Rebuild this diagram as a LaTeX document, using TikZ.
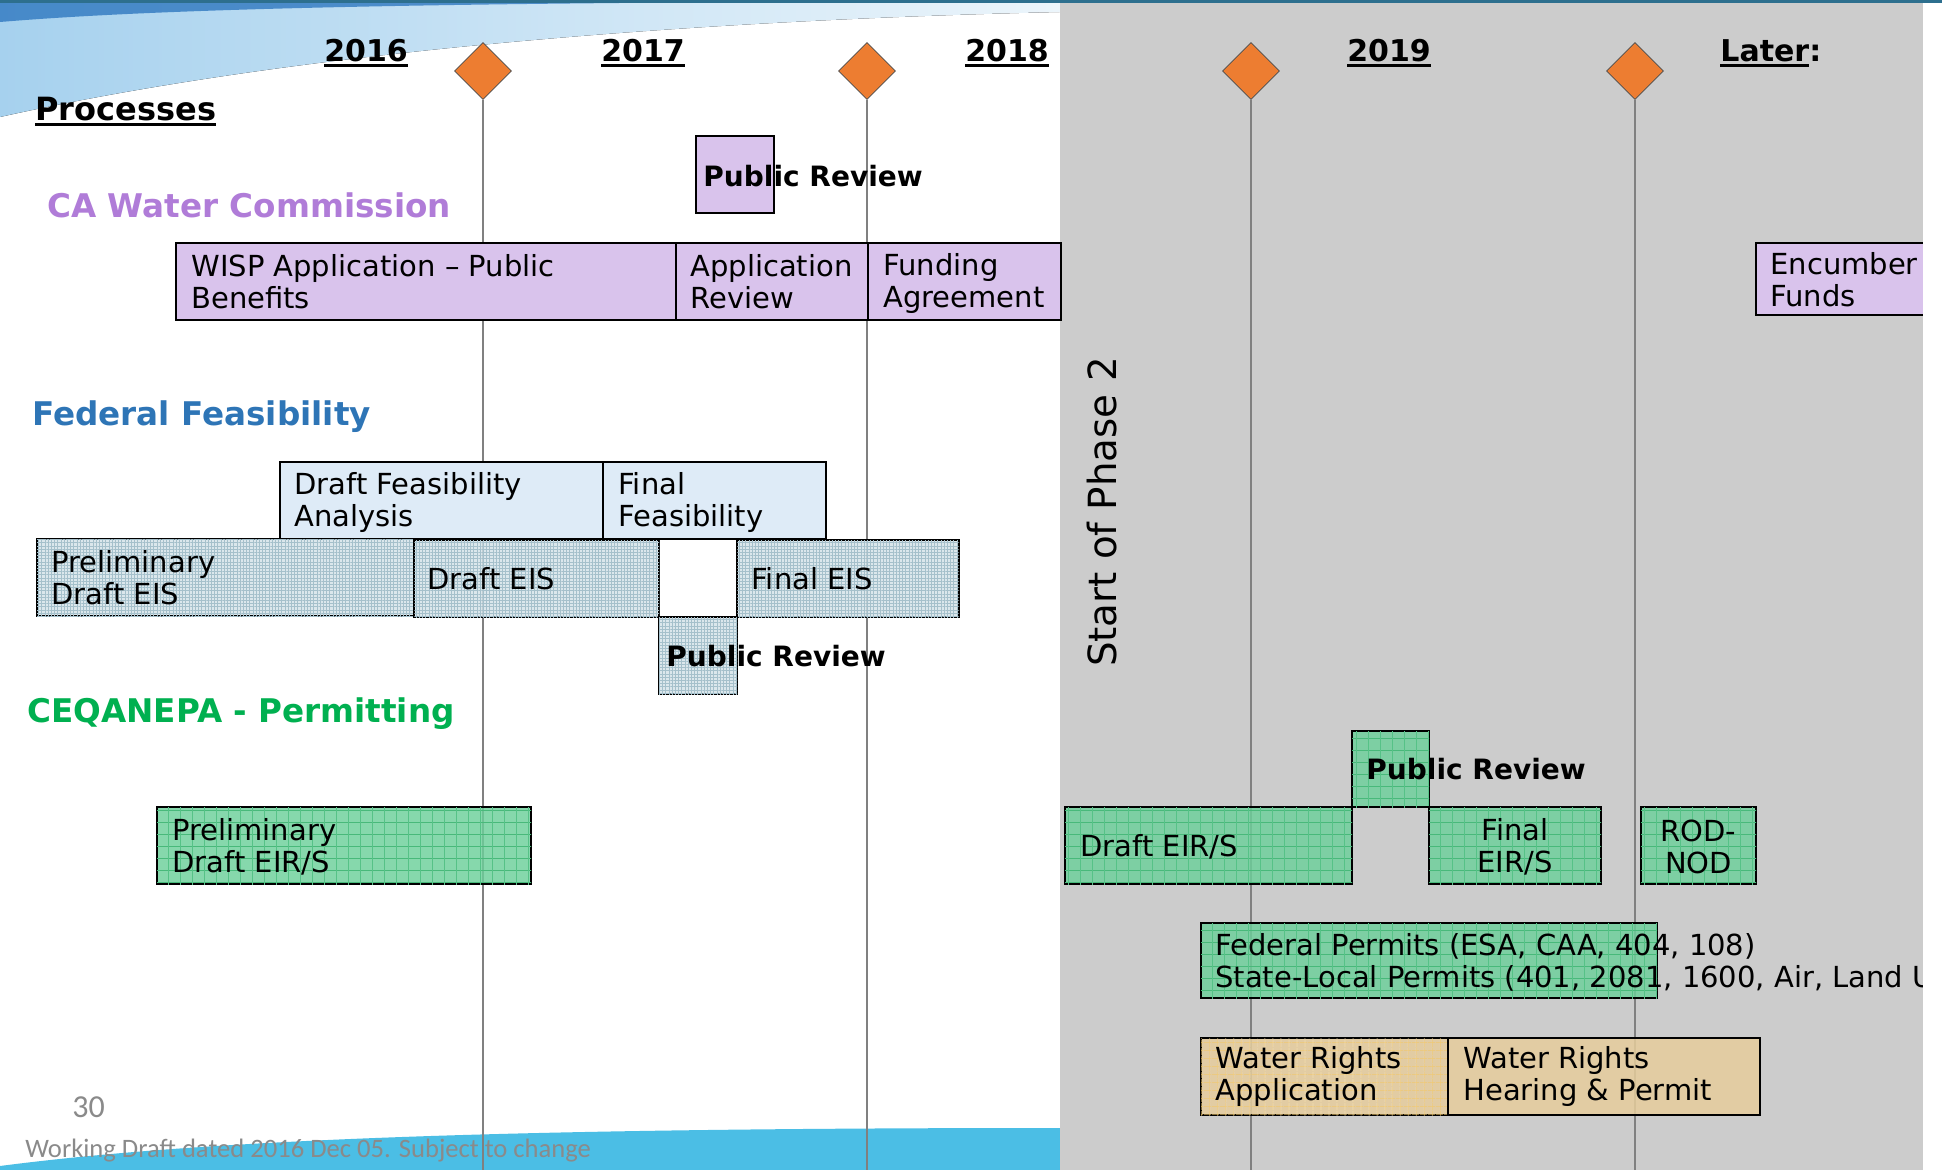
\documentclass[tikz,border=0pt]{standalone}
\usepackage{fontspec}
\setmainfont{DejaVu Sans}
\newfontfamily\footfont{Carlito}
\usetikzlibrary{patterns.meta, shapes.geometric}

\definecolor{topline}{HTML}{2D6F8E}
\definecolor{swooshdark}{HTML}{2F78C0}
\definecolor{swooshL}{HTML}{A6D1EE}
\definecolor{swooshR}{HTML}{ECF5FB}
\definecolor{footblue}{HTML}{4BBEE5}
\definecolor{panelgray}{HTML}{CCCCCC}
\definecolor{tickgray}{HTML}{808080}
\definecolor{milestone}{HTML}{ED7D31}
\definecolor{lavfill}{HTML}{D9C3EC}
\definecolor{feasfill}{HTML}{DEEBF7}
\definecolor{eisfill}{HTML}{D2E2E8}
\definecolor{eisline}{HTML}{A5C0CB}
\definecolor{greenfill}{HTML}{6CD09A}
\definecolor{greenline}{HTML}{48B97A}
\definecolor{tanfill}{HTML}{E6CD9C}
\definecolor{tanline}{HTML}{F3C766}
\definecolor{cwcpurple}{HTML}{B07CD8}
\definecolor{fedblue}{HTML}{2E75B6}
\definecolor{ceqagreen}{HTML}{00B050}
\definecolor{footgray}{HTML}{8A8A8A}

\newcommand{\barfont}{\fontsize{14.5}{16}\selectfont}
\newcommand{\headfont}{\bfseries\fontsize{16.3}{19}\selectfont}
% thick underline, as on the slide
\newcommand{\thickul}[1]{\leavevmode\setbox0=\hbox{#1}\rlap{\rule[-2.6pt]{\wd0}{1.7pt}}\box0}

\begin{document}
\begin{tikzpicture}[x=0.5pt, y=-0.5pt,
    bar/.style={draw=black, line width=1.2pt},
    lavbar/.style={bar, fill=lavfill},
    feasbar/.style={bar, fill=feasfill},
    eisbar/.style={bar, fill=eisfill, fill opacity=.8,
        postaction={pattern={Lines[angle=0, distance=1.6pt, line width=.3pt]}, pattern color=eisline},
        postaction={pattern={Lines[angle=90, distance=1.6pt, line width=.3pt]}, pattern color=eisline}},
    greenbar/.style={bar, fill=greenfill, fill opacity=.82,
        postaction={pattern={Lines[angle=0, distance=6pt, line width=.4pt]}, pattern color=greenline},
        postaction={pattern={Lines[angle=90, distance=6pt, line width=.25pt]}, pattern color=greenline!60!greenfill}},
    tanbar/.style={bar, fill=tanfill, fill opacity=.85},
    tangrid/.style={tanbar,
        postaction={pattern={Lines[angle=0, distance=4pt, line width=.3pt]}, pattern color=tanline},
        postaction={pattern={Lines[angle=90, distance=4pt, line width=.3pt]}, pattern color=tanline}},
    bartext/.style={anchor=west, align=left, inner sep=0pt, font=\barfont},
    barmid/.style={align=center, inner sep=0pt, font=\barfont},
    reviewtext/.style={anchor=west, inner sep=0pt, font=\bfseries\fontsize{14}{16}\selectfont},
    yeartext/.style={anchor=base, inner sep=0pt, font=\bfseries\fontsize{15}{18}\selectfont},
    headtext/.style={anchor=base west, inner sep=0pt, font=\headfont},
    gem/.style={diamond, draw=black!70, line width=.3pt, fill=milestone, minimum width=28.5pt, minimum height=28.5pt, inner sep=0pt},
    tick/.style={tickgray, line width=1pt}]

    \useasboundingbox (0,0) rectangle (1942,1170);

    % --- 1. Slide background ---
    \fill[white] (0,0) rectangle (1942,1170);
    \fill[left color=swooshL, right color=swooshR]
        (0,0) -- (1060,0) -- (1060,12)
        .. controls (700,20) and (300,50) .. (0,117) -- cycle;
    \fill[swooshdark, opacity=.8] (0,3) -- (620,3) .. controls (300,6) and (120,12) .. (0,22) -- cycle;
    \fill[footblue] (0,1170) -- (0,1166)
        .. controls (200,1140) and (500,1128) .. (1060,1128) -- (1060,1170) -- cycle;

    % Phase 2 panel
    \fill[panelgray] (1060,0) rectangle (1923,1170);
    \fill[topline] (0,0) rectangle (1942,3);

    % --- 2. Milestones and time ticks ---
    \foreach \x [count=\i] in {483,867,1251,1635} {
        \node[gem] (gem\i) at (\x,71) {};
        \coordinate (foot\i) at (\x,1170);
        \draw[tick] (gem\i.south) -- (foot\i);
    }

    % Years
    \node[yeartext] (y2016) at (366,62) {\thickul{2016}};
    \node[yeartext] (y2017) at (643,62) {\thickul{2017}};
    \node[yeartext] (y2018) at (1007,62) {\thickul{2018}};
    \node[yeartext] (y2019) at (1389,62) {\thickul{2019}};
    \node[yeartext, anchor=base west] (later) at (1720,62) {\thickul{Later}:};

    \node[headtext, font=\bfseries\fontsize{16}{19}\selectfont] (processes) at (35,121) {\thickul{Processes}};

    % --- 3. CA Water Commission ---
    \node[headtext, cwcpurple] (cwc) at (47,218) {CA Water Commission};

    \draw[lavbar] (696,136) rectangle (774,213);
    \node[reviewtext] (cwcreview) at (703,176) {Public Review};

    \draw[lavbar] (176,243) rectangle (676,320);
    \draw[lavbar] (676,243) rectangle (868,320);
    \draw[lavbar] (868,243) rectangle (1061,320);
    \draw[lavbar] (1756,243) rectangle (1940,315);
    \node[bartext] (wisp) at (191,281.5) {WISP Application – Public\\Benefits};
    \node[bartext] (apprev) at (690,281.5) {Application\\Review};
    \node[bartext] (funding) at (883,284) {Funding\\Agreement};
    \node[bartext] (encumber) at (1770,280) {Encumber\\Funds};

    % --- 4. Federal Feasibility ---
    \node[headtext, fedblue] (fed) at (32,426) {Federal Feasibility};

    \draw[feasbar] (280,462) rectangle (603,539);
    \draw[feasbar] (603,462) rectangle (826,539);
    \node[bartext] (draftfeas) at (294,502) {Draft Feasibility\\Analysis};
    \node[bartext] (finalfeas) at (618,502) {Final\\Feasibility};

    \draw[eisbar] (37,539) rectangle (414,616);
    \draw[eisbar] (414,540) rectangle (659,617);
    \draw[eisbar] (737,540) rectangle (959,617);
    \draw[eisbar] (659,617) rectangle (737,694);
    \node[bartext] (preleis) at (51,578) {Preliminary\\Draft EIS};
    \node[bartext] (drafteis) at (427,579) {Draft EIS};
    \node[bartext] (finaleis) at (751,579) {Final EIS};
    \node[reviewtext] (eisreview) at (666,656) {Public Review};

    % --- 5. CEQA / NEPA permitting ---
    \node[headtext, ceqagreen] (ceqa) at (27,722) {CEQANEPA - Permitting};

    \draw[greenbar] (157,807) rectangle (531,884);
    \node[bartext] (preleir) at (172,846.5) {Preliminary\\Draft EIR/S};

    \draw[greenbar] (1352,731) rectangle (1429,807);
    \draw[greenbar] (1065,807) rectangle (1352,884);
    \draw[greenbar] (1429,807) rectangle (1601,884);
    \draw[greenbar] (1641,807) rectangle (1756,884);
    \node[reviewtext] (eirreview) at (1366,769) {Public Review};
    \node[bartext] (drafteir) at (1080,847) {Draft EIR/S};
    \node[barmid] (finaleir) at (1515,846.5) {Final\\EIR/S};
    \node[barmid] (rodnod) at (1698.5,846.5) {ROD-\\NOD};

    \draw[greenbar] (1201,923) rectangle (1657,998);
    \node[bartext] (permits) at (1215,962) {Federal Permits (ESA, CAA, 404, 108)\\State-Local Permits (401, 2081, 1600, Air, Land U};

    \draw[tangrid] (1201,1038) rectangle (1448,1115);
    \draw[tanbar] (1448,1038) rectangle (1760,1115);
    \node[bartext] (wrapp) at (1215,1076.5) {Water Rights\\Application};
    \node[bartext] (wrhear) at (1463,1076.5) {Water Rights\\Hearing \& Permit};

    % right margin of the slide
    \fill[white] (1923,3) rectangle (1942,1170);

    % --- 6. Phase marker and footer ---
    \node[rotate=90, inner sep=0pt, font=\fontsize{19.4}{22}\selectfont] (phase2) at (1102,512) {Start of Phase 2};

    \node[anchor=base west, inner sep=0pt, footgray, font=\footfont\fontsize{16}{18}\selectfont] (pageno) at (72,1117) {30};
    \node[anchor=base west, inner sep=0pt, footgray, font=\footfont\fontsize{13.3}{16}\selectfont] (footer) at (25,1157) {Working Draft dated 2016 Dec 05. Subject to change};

\end{tikzpicture}
\end{document}
